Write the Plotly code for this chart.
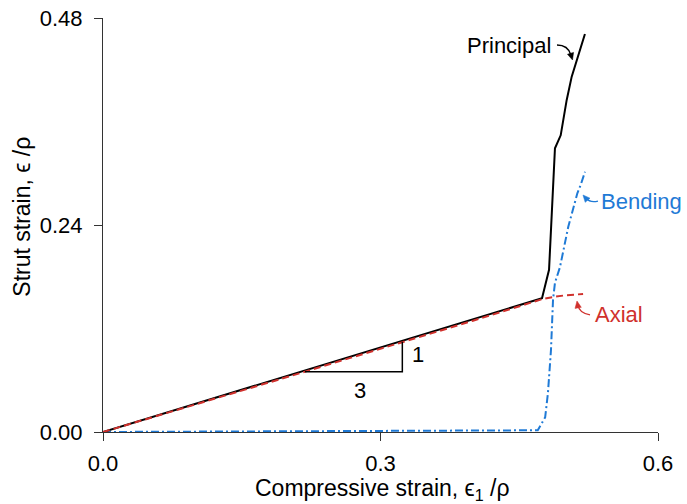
import math
import plotly.graph_objects as go

# Principal strut strain vs. compressive strain
principal_x = [0.0, 0.200, 0.400, 0.4746, 0.4822, 0.4886, 0.4948, 0.5013, 0.5067, 0.5210]
principal_y = [0.0, 0.065, 0.130, 0.1550, 0.1880, 0.3290, 0.3440, 0.3850, 0.4120, 0.4615]

# Axial component
axial_x = [0.0, 0.200, 0.400, 0.4746, 0.4865, 0.5000, 0.5190]
axial_y = [0.0, 0.064, 0.129, 0.1540, 0.1565, 0.1585, 0.1600]

# Bending component
bending_x = [0.0, 0.100, 0.200, 0.300, 0.400, 0.4700, 0.4780, 0.4810, 0.4843, 0.4865,
             0.4886, 0.4940, 0.5030, 0.5085, 0.5128, 0.5164, 0.5211]
bending_y = [0.0, 0.0005, 0.0010, 0.0012, 0.0015, 0.0020, 0.0170, 0.0450, 0.0950, 0.1530,
             0.1730, 0.1910, 0.2380, 0.2610, 0.2767, 0.2864, 0.3018]

x_ticks = [0.0, 0.3, 0.6]
x_ticklabels = ["0.0", "0.3", "0.6"]
y_ticks = [0.0, 0.24, 0.48]
y_ticklabels = ["0.00", "0.24", "0.48"]

BLACK = "#000000"
RED = "#d0312d"
BLUE = "#1f7ad6"
AXIS = "#333333"
FONT = "Liberation Sans, Arial, sans-serif"
FS = 22
FS_TITLE = 23

W, H = 687, 504
M = dict(l=103, r=29, t=18, b=72)
X_RANGE = [0, 0.6]
Y_RANGE = [0, 0.48]
# pixels per data unit, used to size the arrowheads in screen space
PX_X = (W - M["l"] - M["r"]) / (X_RANGE[1] - X_RANGE[0])
PX_Y = (H - M["t"] - M["b"]) / (Y_RANGE[1] - Y_RANGE[0])


def arrowhead_path(tip_x, tip_y, from_x, from_y, length=7.0, half_width=3.2):
    """Filled triangular arrowhead at (tip_x, tip_y) pointing away from (from_x, from_y)."""
    dx = (tip_x - from_x) * PX_X
    dy = -(tip_y - from_y) * PX_Y
    n = math.hypot(dx, dy)
    ux, uy = dx / n, dy / n
    bx, by = -ux * length, -uy * length
    px, py = -uy * half_width, ux * half_width
    pts = [(0, 0), (bx + px, by + py), (bx - px, by - py)]
    coords = [(tip_x + sx / PX_X, tip_y - sy / PX_Y) for sx, sy in pts]
    return "M " + " L ".join(f"{x:.5f},{y:.5f}" for x, y in coords) + " Z"


fig = go.Figure()
fig.add_trace(go.Scatter(x=bending_x, y=bending_y, mode="lines",
                         line=dict(color=BLUE, width=2, dash="8px,3px,2px,3px")))
fig.add_trace(go.Scatter(x=principal_x, y=principal_y, mode="lines",
                         line=dict(color=BLACK, width=2)))
fig.add_trace(go.Scatter(x=axial_x, y=axial_y, mode="lines",
                         line=dict(color=RED, width=2, dash="7px,4px")))

# Slope triangle (rise 1 over run 3)
fig.add_shape(type="path", xref="x", yref="y",
              path="M 0.2184,0.0699 L 0.3236,0.0699 L 0.3236,0.1047",
              line=dict(color=BLACK, width=1.5))

# Curved leader lines for the series labels: (tail, control, end, tip, colour)
leaders = [
    ((0.4908, 0.4487), (0.5027, 0.4487), (0.5059, 0.4371), (0.5076, 0.4313), BLACK),
    ((0.5351, 0.2678), (0.5265, 0.2655), (0.5222, 0.2713), (0.5189, 0.2748), BLUE),
    ((0.5265, 0.1357), (0.5146, 0.1380), (0.5135, 0.1472), (0.5124, 0.1519), RED),
]
for tail, ctrl, end, tip, col in leaders:
    fig.add_shape(type="path", xref="x", yref="y",
                  path=f"M {tail[0]},{tail[1]} Q {ctrl[0]},{ctrl[1]} {end[0]},{end[1]}",
                  line=dict(color=col, width=1.3))
    fig.add_shape(type="path", xref="x", yref="y",
                  path=arrowhead_path(tip[0], tip[1], ctrl[0], ctrl[1]),
                  line=dict(color=col, width=0.5), fillcolor=col)

annotations = [
    dict(x=0.4865, y=0.4487, text="Principal", xanchor="right", yanchor="middle",
         showarrow=False, font=dict(color=BLACK, size=FS)),
    dict(x=0.5360, y=0.2667, text="Bending", xanchor="left", yanchor="middle",
         showarrow=False, font=dict(color=BLUE, size=FS)),
    dict(x=0.5297, y=0.1357, text="Axial", xanchor="left", yanchor="middle",
         showarrow=False, font=dict(color=RED, size=FS)),
    dict(x=0.2778, y=0.0487, text="3", showarrow=False, font=dict(color=BLACK, size=FS)),
    dict(x=0.3405, y=0.0893, text="1", showarrow=False, font=dict(color=BLACK, size=FS)),
    # axis titles
    dict(xref="paper", yref="paper", x=0.5045, y=-0.14, text="Compressive strain, ϵ<sub>1</sub> /ρ",
         showarrow=False, xanchor="center", yanchor="middle", font=dict(color=BLACK, size=FS_TITLE)),
    dict(xref="paper", yref="paper", x=-0.146, y=0.52, text="Strut strain, ϵ /ρ", textangle=-90,
         showarrow=False, xanchor="center", yanchor="middle", font=dict(color=BLACK, size=FS_TITLE)),
]

fig.update_layout(
    width=W, height=H,
    margin=dict(M, autoexpand=False),
    paper_bgcolor="white", plot_bgcolor="white",
    showlegend=False,
    font=dict(family=FONT, size=FS, color=BLACK),
    annotations=annotations,
    xaxis=dict(range=X_RANGE, tickvals=x_ticks, ticktext=x_ticklabels, automargin=False,
               showgrid=False, zeroline=False, showline=True, linecolor=AXIS, linewidth=1.2,
               ticks="outside", ticklen=8, tickcolor=AXIS, tickwidth=1.2,
               ticklabelstandoff=3, tickfont=dict(size=FS)),
    yaxis=dict(range=Y_RANGE, tickvals=y_ticks, ticktext=y_ticklabels, automargin=False,
               showgrid=False, zeroline=False, showline=True, linecolor=AXIS, linewidth=1.2,
               ticks="outside", ticklen=8, tickcolor=AXIS, tickwidth=1.2,
               ticklabelstandoff=7, tickfont=dict(size=FS)),
)

fig.write_html("out.html")
